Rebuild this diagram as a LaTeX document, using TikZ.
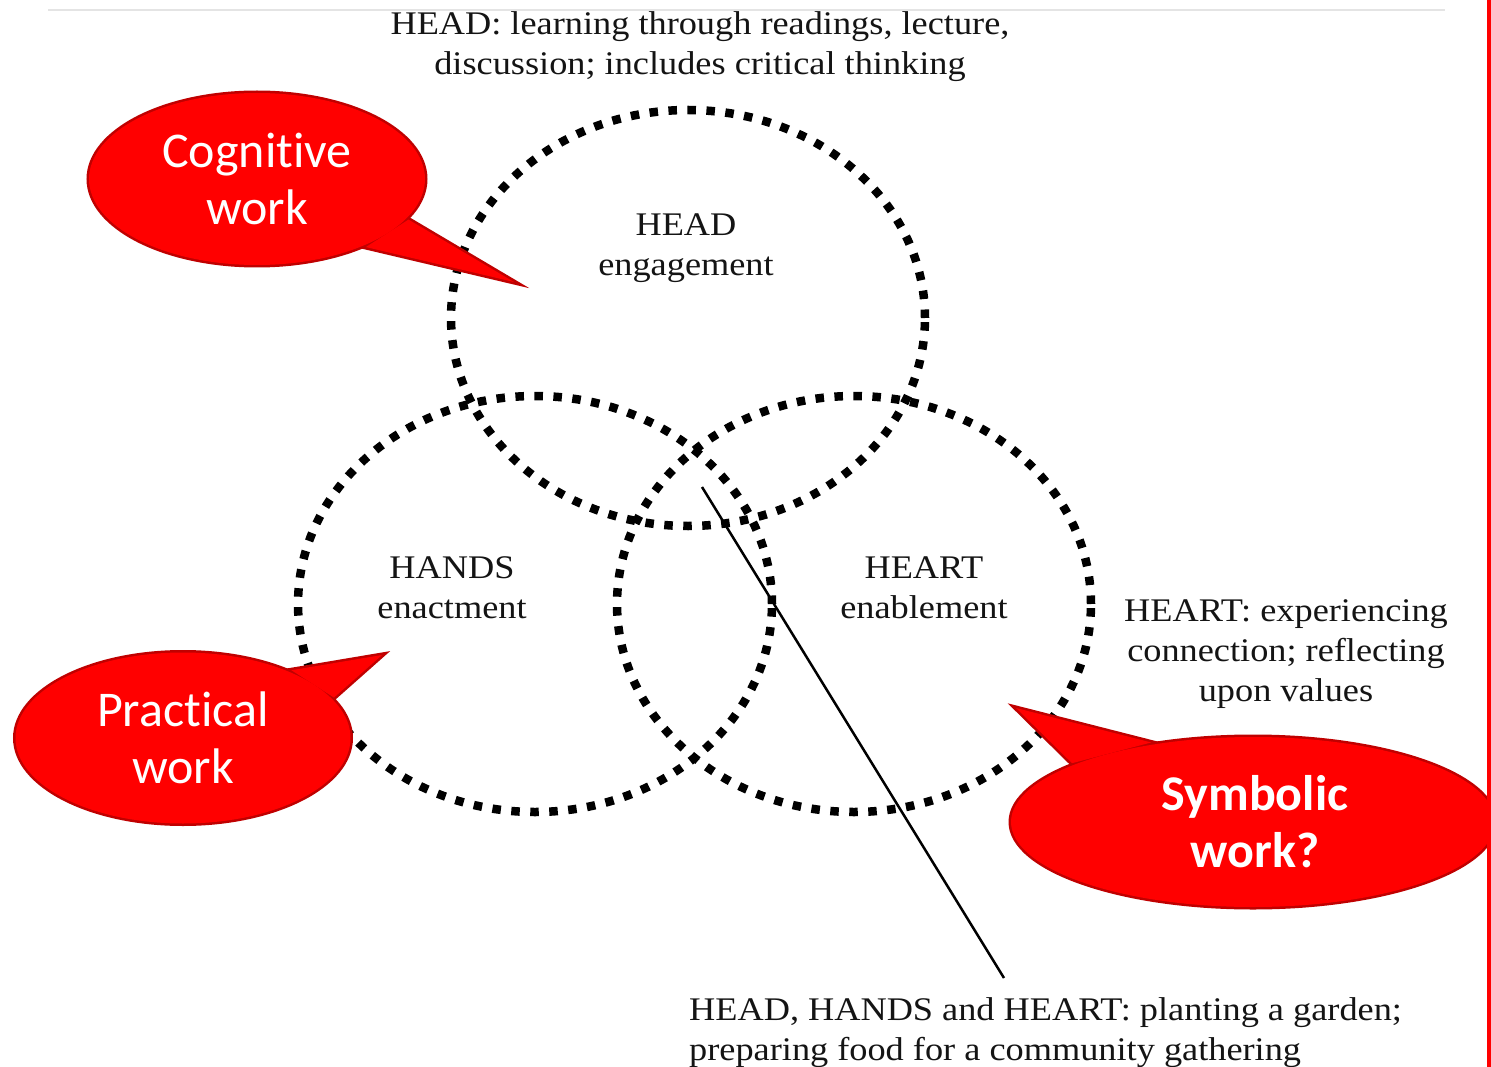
\documentclass[tikz,border=0pt]{standalone}
\usepackage{fontspec}
\setmainfont[FakeStretch=1.1]{Liberation Serif}
\newfontfamily\callfont[Ligatures={NoCommon}]{Carlito}
\usetikzlibrary{shapes.geometric}
\definecolor{cred}{RGB}{255,0,0}
\definecolor{cdark}{RGB}{192,0,0}
\definecolor{rulegray}{RGB}{228,228,228}
\begin{document}
\begin{tikzpicture}[x=1pt,y=-1pt,
  ring/.style={draw=black, line width=8.5pt, dash pattern=on 8.5pt off 10.5pt, ellipse,
    minimum width=474pt, minimum height=416pt, inner sep=0pt},
  lbl/.style={font=\fontsize{33}{40}\selectfont, align=center, inner sep=0pt, text=black!92},
  bubout/.style={ellipse, draw=cdark, line width=5pt, inner sep=0pt},
  bubfill/.style={ellipse, fill=cred, inner sep=0pt, text=white, align=center,
    font=\callfont\fontsize{50}{57}\selectfont},
  tailout/.style={draw=cdark, line width=5pt, line join=miter},
  tailfill/.style={fill=cred},
  pointer/.style={draw=black, line width=2.5pt}
]
\useasboundingbox (0,0) rectangle (1491,1067);
\fill[white] (0,0) rectangle (1491,1067);

% top rule
\draw[rulegray, line width=2pt] (48,10) -- (1445,10);

% circles
\node[ring] (headc) at (688,318) {};
\node[ring] (handsc) at (535,604) {};
\node[ring] (heartc) at (854,604) {};

% circle labels
\node[lbl] (headl) at (686,248) {HEAD\\engagement};
\node[lbl] (handsl) at (452,588) {HANDS\\enactment};
\node[lbl] (heartl) at (924,588) {HEART\\enablement};

% captions
\node[lbl] (headcap) at (700,46.5) {HEAD: learning through readings, lecture,\\discussion; includes critical thinking};
\begin{scope}
\clip (0,0) rectangle (1446,1067);
\node[lbl] (heartcap) at (1286,654) {HEART: experiencing\\connection; reflecting\\upon values};
\end{scope}
\node[lbl, align=left, anchor=west] (allcap) at (689,1033) {HEAD, HANDS and HEART: planting a garden;\\preparing food for a community gathering};

% pointer line
\coordinate (ptA) at (702,487);
\coordinate (ptB) at (1004,978);
\draw[pointer] (ptA) -- (ptB);

\begin{scope}
\clip (0,0) rectangle (1487,1067);
% outlines
\node[bubout, minimum width=336pt, minimum height=172pt] (cog) at (257,179) {};
\node[bubout, minimum width=335pt, minimum height=171pt] (prac) at (183,738) {};
\node[bubout, minimum width=484pt, minimum height=170pt] (sym) at (1253,822) {};
\coordinate (cogtip) at (514,282);
\coordinate (practip) at (382,655);
\coordinate (symtip) at (1016,708);
\draw[tailout] (cog.-15) -- (cogtip) -- (cog.-32) -- cycle;
\draw[tailout] (prac.32) -- (practip) -- (prac.15) -- cycle;
\draw[tailout] (sym.142) -- (symtip) -- (sym.162) -- cycle;
% fills
\fill[tailfill] (cog.-15) -- (cogtip) -- (cog.-32) -- cycle;
\fill[tailfill] (prac.32) -- (practip) -- (prac.15) -- cycle;
\fill[tailfill] (sym.142) -- (symtip) -- (sym.162) -- cycle;
\node[bubfill, minimum width=336pt, minimum height=172pt] (cogf) at (cog) {Cognitive\\work};
\node[bubfill, minimum width=335pt, minimum height=171pt] (pracf) at (prac) {Practical\\work};
\node[bubfill, minimum width=484pt, minimum height=170pt, font=\callfont\bfseries\fontsize{50}{57}\selectfont] (symf) at (sym) {\hspace*{4pt}Symbolic\\\hspace*{4pt}work?};
\end{scope}

% red right edge
\fill[cred] (1487,0) rectangle (1491,1067);
\end{tikzpicture}
\end{document}
